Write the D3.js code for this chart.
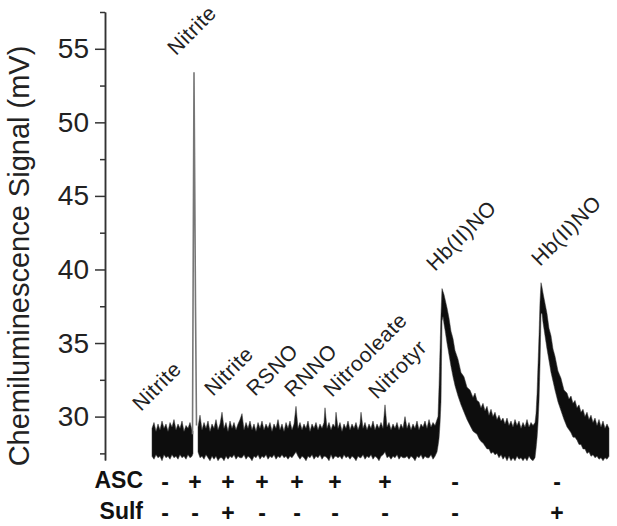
<!DOCTYPE html>
<html>
<head>
<meta charset="utf-8">
<script src="https://cdn.jsdelivr.net/npm/d3@7"></script>
<style>
  body { margin: 0; background: #fff; }
  svg { display: block; font-family: Arial, "Liberation Sans", Helvetica, sans-serif; }
</style>
</head>
<body>
<svg id="chart" width="617" height="526"></svg>
<script>
// trace readings: [time, low, high] in mV (noise envelope of the detector signal)
const traceBefore = [
  [4, 27.3, 29.2], [6, 27.1, 29.6], [8, 27.4, 29.0], [10, 27.2, 29.5], [12, 27.3, 29.1],
  [14, 27.0, 29.7], [16, 27.4, 29.2], [18, 27.2, 29.5], [20, 27.3, 29.0], [22, 27.1, 29.6],
  [24, 27.4, 29.3], [26, 27.2, 29.8], [28, 27.3, 29.1], [30, 27.1, 29.5], [32, 27.4, 29.2],
  [34, 27.2, 29.7], [36, 27.3, 29.0], [38, 27.1, 29.4], [40, 27.4, 29.2], [42, 27.2, 29.6],
  [44, 27.3, 29.1], [45, 27.5, 29.0]
];

// nitrite + ascorbate injection: one sharp spike [time, mV]
const nitriteSpike = [[44.5, 28.8], [46, 53.4], [47.5, 37.5], [48.5, 29.4]];

const traceAfter = [
  [50, 27.6, 29.3], [52, 27.2, 30.1], [54, 27.3, 29.1], [56, 27.1, 29.6], [58, 27.4, 29.2],
  [60, 27.2, 29.7], [62, 27.0, 29.0], [64, 27.3, 29.5], [66, 27.1, 29.2], [68, 27.3, 29.8],
  [70, 27.0, 29.1], [72, 27.2, 29.5], [74, 27.2, 30.3], [76, 27.0, 29.2], [78, 27.3, 29.6],
  [80, 27.1, 29.0], [82, 27.3, 29.7], [84, 27.2, 29.2], [86, 27.4, 29.6], [88, 27.1, 29.1],
  [90, 27.3, 29.5], [92, 27.2, 29.8], [94, 27.2, 30.2], [96, 27.4, 29.1], [98, 27.1, 29.6],
  [100, 27.3, 29.2], [102, 27.2, 29.7], [104, 27.0, 29.1], [106, 27.3, 29.5], [108, 27.2, 29.0],
  [110, 27.4, 29.6], [112, 27.1, 29.2], [114, 27.3, 29.7], [116, 27.2, 29.1], [118, 27.4, 29.5],
  [120, 27.1, 29.2], [122, 27.3, 29.6], [124, 27.2, 29.0], [126, 27.4, 29.5], [128, 27.1, 29.2],
  [130, 27.3, 29.8], [132, 27.2, 29.1], [134, 27.4, 29.5], [136, 27.2, 29.0], [138, 27.3, 29.6],
  [140, 27.1, 29.2], [142, 27.3, 29.7], [144, 27.2, 29.1], [146, 27.4, 29.5], [148, 27.6, 30.7],
  [150, 27.3, 29.2], [152, 27.1, 29.6], [154, 27.3, 29.1], [156, 27.2, 29.5], [158, 27.0, 29.2],
  [160, 27.3, 29.7], [162, 27.2, 29.0], [164, 27.4, 29.5], [166, 27.1, 29.2], [168, 27.3, 29.6],
  [170, 27.2, 29.1], [172, 27.4, 29.5], [174, 27.1, 29.2], [176, 27.3, 29.6], [177, 27.3, 30.6],
  [179, 27.2, 29.2], [181, 27.0, 29.6], [183, 27.4, 29.1], [185, 27.1, 29.5], [187, 27.3, 29.3],
  [188, 27.3, 30.3], [190, 27.2, 29.2], [192, 27.3, 29.6], [194, 27.1, 29.0], [196, 27.4, 29.5],
  [198, 27.2, 29.2], [200, 27.3, 29.7], [202, 27.1, 29.1], [204, 27.3, 29.5], [206, 27.2, 29.2],
  [208, 27.0, 29.6], [210, 27.3, 29.1], [212, 27.2, 29.5], [213, 27.2, 30.3], [215, 27.4, 29.2],
  [217, 27.1, 29.6], [219, 27.3, 29.1], [221, 27.2, 29.5], [223, 27.4, 29.2], [225, 27.1, 29.7],
  [227, 27.3, 29.1], [229, 27.2, 29.5], [231, 27.0, 29.2], [233, 27.3, 29.6], [235, 27.4, 29.2],
  [237, 27.6, 30.8], [239, 27.2, 29.3], [241, 27.3, 29.6], [243, 27.1, 29.1], [245, 27.3, 29.5],
  [247, 27.2, 29.2], [249, 27.4, 29.6], [251, 27.1, 29.1], [253, 27.3, 29.5], [255, 27.2, 29.2],
  [257, 27.2, 30.0], [259, 27.3, 29.2], [261, 27.1, 29.6], [263, 27.3, 29.1], [265, 27.2, 29.5],
  [267, 27.0, 29.2], [269, 27.3, 29.7], [271, 27.2, 29.1], [273, 27.4, 29.5], [275, 27.1, 29.3],
  [277, 27.3, 29.7], [279, 27.2, 29.2], [281, 27.2, 29.8], [283, 27.4, 29.3], [285, 27.1, 29.6],
  [287, 27.3, 29.4], [289, 27.6, 29.8],
  // first Hb(II)NO peak
  [290, 28.0, 30.0], [291, 28.5, 32.0], [292, 29.5, 34.5], [293, 31.0, 37.0], [294, 36.5, 38.7],
  [295, 36.8, 38.5], [296, 36.3, 38.3], [297, 35.9, 38.0], [299, 35.0, 37.4], [301, 34.2, 36.7],
  [303, 33.4, 35.8], [305, 32.7, 35.3], [307, 32.1, 34.5], [310, 31.4, 33.9], [313, 30.8, 33.0],
  [316, 30.3, 32.7], [319, 29.8, 32.0], [322, 29.4, 31.8], [325, 29.0, 31.3], [327, 28.9, 31.6],
  [329, 28.8, 31.1], [331, 28.5, 31.0], [333, 28.3, 30.6], [335, 28.2, 30.9], [337, 28.0, 30.4],
  [339, 27.8, 30.7], [341, 27.8, 30.1], [343, 27.5, 30.5], [345, 27.6, 30.0], [347, 27.4, 30.3],
  [349, 27.5, 29.8], [351, 27.2, 30.1], [353, 27.4, 29.7], [355, 27.1, 29.9], [357, 27.3, 29.5],
  [359, 27.0, 29.9], [361, 27.3, 29.4], [363, 27.0, 29.7], [365, 27.2, 29.3], [367, 27.0, 29.8],
  [369, 27.3, 29.4], [371, 27.1, 29.7], [373, 27.2, 29.2], [375, 27.0, 29.6], [377, 27.2, 29.3],
  [379, 27.0, 29.8], [381, 27.3, 29.3], [383, 27.1, 29.6], [385, 27.0, 29.4], [387, 27.2, 29.6],
  // second Hb(II)NO peak
  [388, 27.8, 30.2], [389, 28.5, 31.5], [390, 29.5, 33.5], [391, 31.0, 35.5], [392, 33.5, 37.8],
  [393, 37.0, 39.1], [394, 37.0, 38.8], [395, 36.4, 38.4], [397, 35.5, 37.7], [399, 34.6, 37.0],
  [401, 33.8, 36.0], [403, 33.0, 35.5], [405, 32.4, 34.6], [407, 31.8, 34.1], [410, 31.0, 33.1],
  [413, 30.4, 32.6], [416, 29.8, 31.8], [419, 29.3, 31.6], [421, 29.1, 31.2], [423, 28.9, 31.4],
  [425, 28.6, 30.9], [427, 28.6, 31.1], [429, 28.4, 30.6], [431, 28.1, 30.8], [433, 28.1, 30.3],
  [435, 27.8, 30.5], [437, 27.8, 30.0], [439, 27.5, 30.3], [441, 27.6, 29.8], [443, 27.3, 30.1],
  [445, 27.4, 29.6], [447, 27.2, 29.9], [449, 27.3, 29.4], [451, 27.1, 29.8], [453, 27.2, 29.3],
  [455, 27.0, 29.7], [457, 27.2, 29.2], [459, 27.1, 29.5], [461, 27.3, 29.2]
];

const yTicks = [30, 35, 40, 45, 50, 55];
const yMinorTicks = [27.5, 32.5, 37.5, 42.5, 47.5, 52.5, 57.5];

// compound labels over each injection: text, time, mV level
const compounds = ['Nitrite', 'Nitrite', 'Nitrite', 'RSNO', 'RNNO', 'Nitrooleate', 'Nitrotyr', 'Hb(II)NO', 'Hb(II)NO'];
const compoundT = [-7, 28, 65, 107, 145, 184, 229, 287, 392];
const compoundV = [30.31, 54.5, 31.33, 31.33, 31.26, 31.26, 31.13, 39.83, 40.17];

// treatment rows
const signT = [17, 47, 80, 114, 149, 187, 237, 307, 409];
const ascSigns = ['-', '+', '+', '+', '+', '+', '+', '-', '-'];
const sulfSigns = ['-', '-', '+', '-', '-', '-', '-', '-', '+'];

const svg = d3.select('#chart');

const x = d3.scaleLinear().domain([0, 470]).range([148, 618]);
const y = d3.scaleLinear().domain([27.05, 57.5]).range([460, 12]);

// soft edge like the scanned trace
svg.append('defs').append('filter')
  .attr('id', 'soft')
  .append('feGaussianBlur')
  .attr('stdDeviation', 0.6);

// y axis
const axisG = svg.append('g').attr('transform', 'translate(105,0)');
axisG.call(d3.axisLeft(y).tickValues(yMinorTicks).tickSize(5).tickSizeOuter(0).tickFormat(''));
axisG.append('g').call(d3.axisLeft(y).tickValues(yTicks).tickSize(10).tickPadding(6).tickSizeOuter(0));
axisG.selectAll('path.domain').attr('stroke', '#333').attr('stroke-width', 1.5);
axisG.selectAll('.tick line').attr('stroke', '#333').attr('stroke-width', 1.5);
axisG.selectAll('.tick text')
  .attr('fill', '#222')
  .style('font-size', '28px')
  .style('font-family', 'Arial, "Liberation Sans", sans-serif');

svg.append('text')
  .attr('transform', 'translate(29,256) rotate(-90)')
  .attr('text-anchor', 'middle')
  .attr('fill', '#222')
  .style('font-size', '29px')
  .text('Chemiluminescence Signal (mV)');

// trace
const band = d3.area()
  .x(d => x(d[0]))
  .y0(d => y(d[1]))
  .y1(d => y(d[2]));

const traceG = svg.append('g').attr('filter', 'url(#soft)');

[traceBefore, traceAfter].forEach(seg => {
  traceG.append('path')
    .datum(seg)
    .attr('d', band)
    .attr('fill', '#111')
    .attr('stroke', '#333')
    .attr('stroke-width', 0.5);
});

traceG.append('path')
  .datum(nitriteSpike)
  .attr('d', d3.line().x(d => x(d[0])).y(d => y(d[1])))
  .attr('fill', 'none')
  .attr('stroke', '#777')
  .attr('stroke-width', 1.6);

// compound labels
svg.selectAll('.compound')
  .data(compounds)
  .enter()
  .append('text')
  .attr('class', 'compound')
  .attr('transform', (d, i) => 'translate(' + x(compoundT[i]) + ',' + y(compoundV[i]) + ') rotate(-45)')
  .attr('fill', '#222')
  .style('font-size', '21px')
  .style('letter-spacing', '0.6px')
  .text(d => d);

// treatment rows
const rows = [
  { name: 'ASC', signs: ascSigns, base: 488 },
  { name: 'Sulf', signs: sulfSigns, base: 519 }
];

rows.forEach(row => {
  svg.append('text')
    .attr('x', 143)
    .attr('y', row.base)
    .attr('text-anchor', 'end')
    .attr('fill', '#111')
    .style('font-size', '23px')
    .style('font-weight', 'bold')
    .text(row.name);

  svg.selectAll(null)
    .data(row.signs)
    .enter()
    .append('text')
    .attr('x', (d, i) => x(signT[i]))
    .attr('y', row.base + 2)
    .attr('text-anchor', 'middle')
    .attr('fill', '#111')
    .style('font-size', '23px')
    .style('font-weight', 'bold')
    .text(d => d);
});
</script>
</body>
</html>
